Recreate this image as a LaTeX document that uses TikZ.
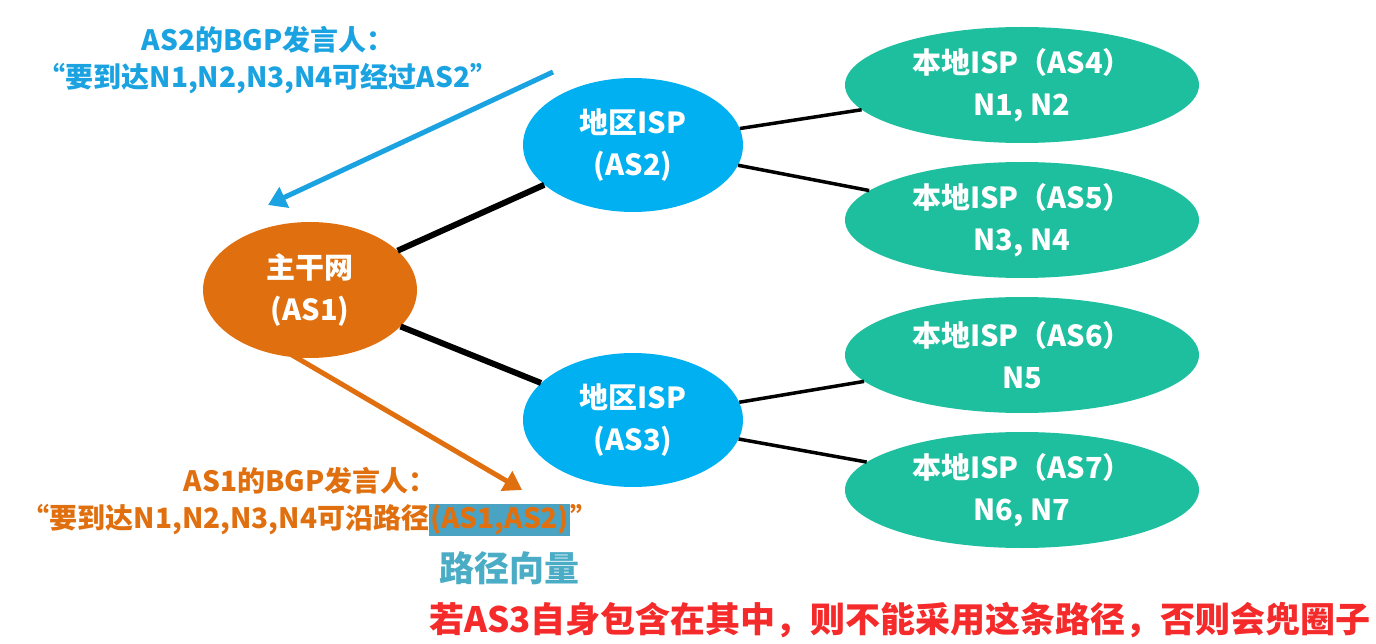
\documentclass[tikz,border=0pt]{standalone}
\usepackage{fontspec}
\setmainfont{Noto Sans CJK SC}
\usetikzlibrary{shapes.geometric,arrows.meta}
\definecolor{org}{HTML}{E0700F}
\definecolor{cyn}{HTML}{00B0F0}
\definecolor{tea}{HTML}{1DBF9F}
\definecolor{bluet}{HTML}{1AA3E0}
\definecolor{hl}{HTML}{4BA3C3}
\definecolor{vec}{HTML}{4BACC6}
\definecolor{redt}{HTML}{F52A2A}
\begin{document}
\begin{tikzpicture}[x=1pt,y=-1pt,
  ell/.style={ellipse,inner sep=0pt,text=white,font=\fontsize{29}{42}\selectfont\bfseries,align=center},
  link/.style={line width=6pt},
  thin/.style={line width=3.5pt},
  lbl/.style={font=\fontsize{28}{37}\selectfont\bfseries,align=center}]
\useasboundingbox (0,0) rectangle (1376,644);
\node[ell,fill=org,minimum width=214pt,minimum height=136pt] (as1) at (310,290) {主干网\\(AS1)};
\node[ell,fill=cyn,minimum width=220pt,minimum height=134pt] (as2) at (633,145) {地区ISP\\(AS2)};
\node[ell,fill=cyn,minimum width=220pt,minimum height=134pt] (as3) at (633,420) {地区ISP\\(AS3)};
\node[ell,fill=tea,minimum width=354pt,minimum height=116pt] (as4) at (1022,85) {本地ISP（AS4）\\N1, N2};
\node[ell,fill=tea,minimum width=354pt,minimum height=116pt] (as5) at (1022,220) {本地ISP（AS5）\\N3, N4};
\node[ell,fill=tea,minimum width=354pt,minimum height=116pt] (as6) at (1022,355) {本地ISP（AS6）\\N5};
\node[ell,fill=tea,minimum width=354pt,minimum height=116pt] (as7) at (1022,490) {本地ISP（AS7）\\N6, N7};
\draw[link] (as1) -- (as2);
\draw[link] (as1) -- (as3);
\draw[thin] (as2) -- (as4);
\draw[thin] (as2) -- (as5);
\draw[thin] (as3) -- (as6);
\draw[thin] (as3) -- (as7);
\coordinate (b1) at (553,72); \coordinate (b2) at (268,205);
\draw[bluet,line width=5pt,-{Triangle[length=18pt,width=22pt]}] (b1) -- (b2);
\coordinate (o1) at (292,355); \coordinate (o2) at (522,490);
\draw[org,line width=5pt,-{Triangle[length=18pt,width=22pt]}] (o1) -- (o2);
\node[lbl,text=bluet] (t1) at (268,60) {AS2的BGP发言人：\\“要到达N1,N2,N3,N4可经过AS2”};
\node[lbl,text=org] (t2) at (310,502) {AS1的BGP发言人：\\“要到达N1,N2,N3,N4可沿路径{\setlength\fboxsep{1pt}\colorbox{hl}{(AS1,AS2)}}”};
\node[font=\fontsize{35}{38}\selectfont\bfseries,text=vec] (t3) at (509,568) {路径向量};
\node[font=\fontsize{35}{38}\selectfont\bfseries,text=redt] (t4) at (900,620) {若AS3自身包含在其中，则不能采用这条路径，否则会兜圈子};
\end{tikzpicture}
\end{document}
